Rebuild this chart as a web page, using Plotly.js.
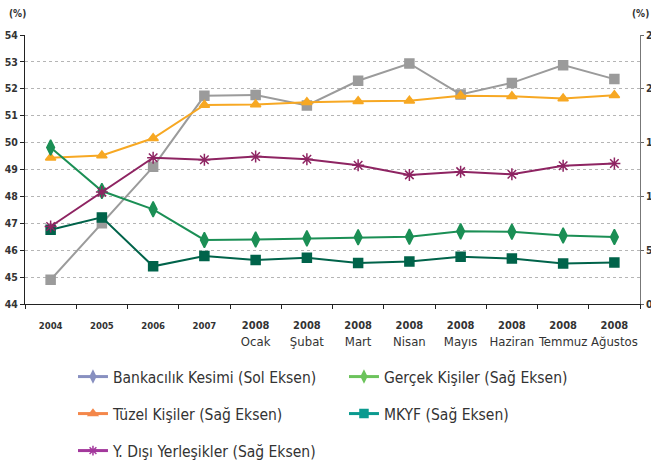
<!DOCTYPE html>
<html>
<head>
<meta charset="utf-8">
<script src="https://cdn.plot.ly/plotly-3.0.1.min.js"></script>
<style>
  body { margin: 0; background: #fff; }
  #myDiv { width: 651px; height: 471px; }
</style>
</head>
<body>
<div id="myDiv"></div>
<script>
var categories = ['2004', '2005', '2006', '2007', '2008 Ocak', '2008 Şubat', '2008 Mart',
  '2008 Nisan', '2008 Mayıs', '2008 Haziran', '2008 Temmuz', '2008 Ağustos'];
var yearLabels = ['2004', '2005', '2006', '2007', '2008', '2008', '2008', '2008', '2008', '2008', '2008', '2008'];
var monthLabels = ['', '', '', '', 'Ocak', 'Şubat', 'Mart', 'Nisan', 'Mayıs', 'Haziran', 'Temmuz', 'Ağustos'];

// sol eksen
var bankacilik = [44.9, 47.0, 49.1, 51.74, 51.77, 51.38, 52.3, 52.94, 51.79, 52.22, 52.88, 52.36];
// sağ eksen
var tuzel = [13.6, 13.8, 15.4, 18.5, 18.55, 18.75, 18.85, 18.9, 19.35, 19.3, 19.1, 19.4];
var gercek = [14.55, 10.5, 8.8, 5.95, 6.0, 6.1, 6.2, 6.25, 6.75, 6.72, 6.37, 6.22];
var mkyf = [6.9, 8.05, 3.5, 4.45, 4.1, 4.3, 3.8, 3.95, 4.38, 4.23, 3.76, 3.86];
var yDisi = [7.2, 10.4, 13.6, 13.4, 13.7, 13.45, 12.9, 12.0, 12.3, 12.05, 12.85, 13.05];

var leftTicks = [44, 45, 46, 47, 48, 49, 50, 51, 52, 53, 54];
var rightTicks = [0, 5, 10, 15, 20, 25];

var narrow = 'DejaVu Sans Condensed, Liberation Sans Narrow, sans-serif';

var tickText = yearLabels.map(function (y, i) {
  if (monthLabels[i] === '') {
    return '<span style="font-size:9.5px"><b>' + y + '</b></span>';
  }
  return '<span style="font-size:11px"><b>' + y + '</b></span><br>' + monthLabels[i];
});

function line(name, y, axis, color, symbol, size) {
  return {
    x: categories, y: y, yaxis: axis, name: name,
    type: 'scatter', mode: 'lines+markers', showlegend: false,
    line: { color: color, width: 2 },
    marker: { symbol: symbol, size: size, color: color, line: { color: color, width: 1.5 } },
    hoverinfo: 'y'
  };
}

// legend entries use their own colours, as in the original
function key(name, color, symbol, legendId) {
  return {
    x: [null], y: [null], name: name, legend: legendId,
    type: 'scatter', mode: 'lines+markers',
    line: { color: color, width: 3 },
    marker: { symbol: symbol, size: 8, color: color, line: { color: color, width: 1.5 } }
  };
}

var data = [
  line('Bankacılık Kesimi (Sol Eksen)', bankacilik, 'y', '#9b9b9b', 'square', 9),
  line('Tüzel Kişiler (Sağ Eksen)', tuzel, 'y2', '#f7a823', 'triangle-up', 9),
  line('Gerçek Kişiler (Sağ Eksen)', gercek, 'y2', '#1b8f55', 'diamond-tall', 11),
  line('MKYF (Sağ Eksen)', mkyf, 'y2', '#00634a', 'square', 9),
  line('Y. Dışı Yerleşikler (Sağ Eksen)', yDisi, 'y2', '#8e2462', 'asterisk-open', 10),
  key('Bankacılık Kesimi (Sol Eksen)', '#8890c0', 'diamond-tall', 'legend'),
  key('Gerçek Kişiler (Sağ Eksen)', '#6cc35c', 'diamond-tall', 'legend'),
  key('Tüzel Kişiler (Sağ Eksen)', '#f4874a', 'triangle-up', 'legend2'),
  key('MKYF (Sağ Eksen)', '#0a9a8f', 'square', 'legend2'),
  key('Y. Dışı Yerleşikler (Sağ Eksen)', '#a3389c', 'asterisk-open', 'legend3')
];

var legendBase = {
  orientation: 'h', xanchor: 'left', yanchor: 'middle', x: 0.078,
  yref: 'container',
  entrywidth: 226, itemwidth: 30, bgcolor: 'rgba(0,0,0,0)',
  font: { family: narrow, size: 15.5, color: '#333' }
};

var layout = {
  width: 651, height: 471,
  margin: { l: 25, r: 11, t: 35, b: 167 },
  paper_bgcolor: '#fff', plot_bgcolor: '#fff',
  font: { family: narrow, color: '#333' },
  xaxis: {
    type: 'category', range: [-0.5, 11.5], automargin: false,
    tickmode: 'array', tickvals: categories, ticktext: tickText, tickangle: 0,
    tickson: 'boundaries', ticks: 'outside', ticklen: 4, tickcolor: '#222',
    ticklabelstandoff: 8,
    showline: true, linecolor: '#222', linewidth: 1,
    showgrid: false, zeroline: false,
    tickfont: { family: narrow, size: 13, color: '#333' }
  },
  yaxis: {
    range: [44, 54], tickmode: 'array', tickvals: leftTicks, automargin: false,
    ticks: 'outside', ticklen: 4, tickcolor: '#222',
    showline: true, linecolor: '#222', linewidth: 1,
    showgrid: true, gridcolor: '#b5b5b5', griddash: 'dot', gridwidth: 1,
    zeroline: false,
    tickfont: { family: narrow, size: 10.5, color: '#333', weight: 'bold' }
  },
  yaxis2: {
    overlaying: 'y', side: 'right', range: [0, 25], automargin: false,
    tickmode: 'array', tickvals: rightTicks,
    ticks: 'outside', ticklen: 3, tickcolor: '#666',
    showline: true, linecolor: '#777', linewidth: 1,
    showgrid: false, zeroline: false,
    tickfont: { family: narrow, size: 10.5, color: '#333', weight: 'bold' }
  },
  legend: Object.assign({}, legendBase, { y: 1 - 377 / 471 }),
  legend2: Object.assign({}, legendBase, { y: 1 - 414 / 471 }),
  legend3: Object.assign({}, legendBase, { y: 1 - 451 / 471 }),
  annotations: [
    { text: '(%)', xref: 'paper', yref: 'paper', x: -0.012, y: 1.08, xanchor: 'center', yanchor: 'middle',
      showarrow: false, font: { family: narrow, size: 10, color: '#333', weight: 'bold' } },
    { text: '(%)', xref: 'paper', yref: 'paper', x: 1.0, y: 1.08, xanchor: 'center', yanchor: 'middle',
      showarrow: false, font: { family: narrow, size: 10, color: '#333', weight: 'bold' } }
  ]
};

Plotly.newPlot('myDiv', data, layout, { displayModeBar: false, staticPlot: true });
</script>
</body>
</html>
